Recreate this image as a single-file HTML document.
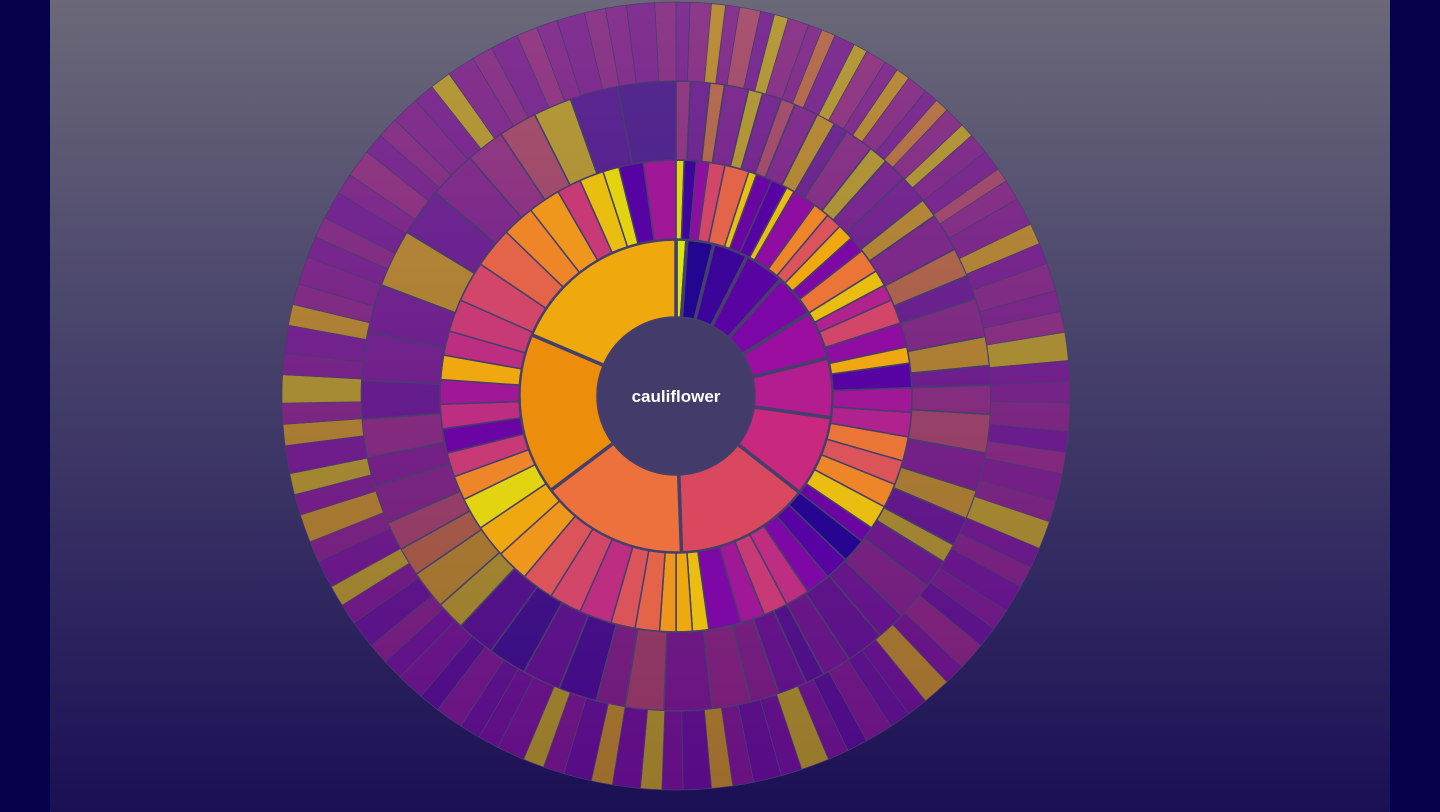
<!DOCTYPE html>
<html><head><meta charset="utf-8"><style>
html,body{margin:0;padding:0;width:1440px;height:812px;overflow:hidden;background:#07004a;}
#bg{position:absolute;left:50px;top:0;width:1340px;height:812px;background:linear-gradient(#6b6879,#45406a 45%,#1b0f55);}
svg{position:absolute;left:0;top:0;}
</style></head><body>
<div id="bg"></div>
<svg id="chart" width="1440" height="812"></svg>
<script>
const ring1Values=[4,10,13,15,16,18,22,30,50,55,60,67];
const ring1Colors=["#d8e80f","#22068f","#3c0599","#5a03a3","#7c06a6","#9c0ea0","#b41d8f","#c8287e","#d9485f","#ec713c","#ec8e0c","#f0a90c"];
const ring2Values=[2,3,3,4,6,2,4,4,2,6,4,4,4,4,6,4,4,6,6,4,6,6,6,6,6,6,6,4,6,6,6,6,6,6,8,4,4,4,6,6,8,8,8,8,8,8,6,6,6,6,6,6,6,8,10,10,8,8,6,6,4,6,8];
const ring2Colors=[0.95,0.1,0.3,0.55,0.65,0.9,0.2,0.15,0.9,0.3,0.75,0.6,0.85,0.25,0.7,0.9,0.4,0.55,0.3,0.85,0.15,0.35,0.4,0.7,0.6,0.75,0.9,0.2,0.05,0.15,0.25,0.45,0.5,0.35,0.25,0.9,0.85,0.8,0.65,0.6,0.45,0.55,0.6,0.8,0.85,0.95,0.75,0.5,0.2,0.45,0.35,0.85,0.45,0.5,0.55,0.65,0.75,0.8,0.5,0.9,0.95,0.15,0.35];
const ring3Values=[3,4,3,5,3,4,3,5,4,3,6,4,5,6,4,8,6,5,8,6,4,6,8,8,6,6,4,6,8,6,8,6,4,6,6,8,10,8,6,8,8,8,8,6,8,6,6,8,6,8,8,10,10,12,10,10,8,8,8,10,12];
const ring3Colors=[0.4,0.25,0.7,0.3,0.9,0.28,0.55,0.33,0.85,0.25,0.36,0.9,0.3,0.28,0.85,0.33,0.7,0.25,0.36,0.85,0.28,0.4,0.55,0.33,0.85,0.25,0.9,0.3,0.36,0.28,0.25,0.3,0.2,0.28,0.36,0.4,0.33,0.55,0.36,0.15,0.25,0.12,0.2,0.9,0.85,0.7,0.55,0.36,0.33,0.4,0.25,0.3,0.28,0.85,0.25,0.33,0.4,0.55,0.9,0.15,0.12];
const ring4Values=[2,3,2,2,3,2,2,3,2,2,3,2,3,2,2,3,2,2,3,2,3,3,2,3,4,3,3,4,3,3,4,3,3,4,3,3,4,3,4,3,3,4,3,3,4,3,4,3,3,4,3,3,4,3,4,3,3,4,3,3,4,3,4,3,3,4,3,3,4,3,4,3,3,4,3,3,4,3,4,3,3,4,3,3,4,3,4,3,3,4,3,3,4,3,4,3,3,4,3,3,4,3,4,3,3,4,3,3,4,3];
const ring4Colors=[0.3,0.36,0.85,0.33,0.55,0.28,0.9,0.36,0.33,0.7,0.3,0.9,0.4,0.33,0.85,0.36,0.3,0.75,0.36,0.9,0.33,0.3,0.55,0.36,0.33,0.85,0.3,0.36,0.33,0.4,0.9,0.3,0.33,0.36,0.28,0.4,0.33,0.36,0.9,0.3,0.36,0.28,0.33,0.25,0.4,0.3,0.85,0.28,0.25,0.33,0.2,0.3,0.9,0.28,0.25,0.33,0.85,0.25,0.3,0.9,0.28,0.85,0.25,0.33,0.9,0.3,0.28,0.25,0.33,0.2,0.3,0.28,0.36,0.25,0.33,0.9,0.3,0.36,0.85,0.33,0.9,0.3,0.85,0.36,0.9,0.33,0.3,0.85,0.36,0.33,0.3,0.36,0.28,0.33,0.4,0.3,0.36,0.33,0.3,0.9,0.33,0.36,0.3,0.4,0.33,0.3,0.36,0.33,0.3,0.36];
const centerLabel="cauliflower";

const CX=676,CY=396;
const radii=[78,157,236,315,394];
const stops=[[13,8,135],[84,2,163],[139,10,165],[185,40,135],[214,75,100],[237,121,50],[240,170,15],[220,235,20]];
function plasma(t){t=Math.max(0,Math.min(1,t));const s=t*(stops.length-1),i=Math.min(stops.length-2,Math.floor(s)),f=s-i;
 const c=stops[i].map((v,k)=>Math.round(v+(stops[i+1][k]-v)*f));return `rgb(${c[0]},${c[1]},${c[2]})`;}
function pt(r,a){const rad=a*Math.PI/180;return [CX+r*Math.sin(rad),CY-r*Math.cos(rad)];}
function arc(r0,r1,a0,a1){const l=(a1-a0)>180?1:0;const p0=pt(r1,a0),p1=pt(r1,a1),p2=pt(r0,a1),p3=pt(r0,a0);
 return `M${p0}A${r1},${r1} 0 ${l} 1 ${p1}L${p2}A${r0},${r0} 0 ${l} 0 ${p3}Z`;}
const svg=document.getElementById('chart');const NS='http://www.w3.org/2000/svg';
const rings=[[ring1Values,ring1Colors,1,3.5],[ring2Values,ring2Colors,1,1.5],[ring3Values,ring3Colors,0.6,1.5],[ring4Values,ring4Colors,0.6,0.7]];
rings.forEach((rg,ri)=>{const [vals,cols,op,sw]=rg;const sum=vals.reduce((a,b)=>a+b,0);let a=0;
 const g=document.createElementNS(NS,'g');
 
 
 svg.appendChild(g);
 vals.forEach((v,i)=>{const da=v/sum*360;const p=document.createElementNS(NS,'path');
  p.setAttribute('d',arc(radii[ri],radii[ri+1],a,a+da));
  const col=typeof cols[i]==='string'?cols[i]:plasma(cols[i]);
  p.setAttribute('fill',col);p.setAttribute('fill-opacity',op);
  p.setAttribute('stroke','#453f6c');p.setAttribute('stroke-width',sw);
  
  
  g.appendChild(p);a+=da;});
});
const c=document.createElementNS(NS,'circle');c.setAttribute('cx',CX);c.setAttribute('cy',CY);c.setAttribute('r',radii[0]);c.setAttribute('fill','#433c6b');


svg.appendChild(c);
const t=document.createElementNS(NS,'text');t.setAttribute('x',CX);t.setAttribute('y',CY+6);t.setAttribute('text-anchor','middle');
t.setAttribute('fill','#fff');t.setAttribute('font-family','Liberation Sans, sans-serif');t.setAttribute('font-weight','bold');t.setAttribute('font-size','17');


t.textContent=centerLabel;svg.appendChild(t);
</script>
</body></html>
